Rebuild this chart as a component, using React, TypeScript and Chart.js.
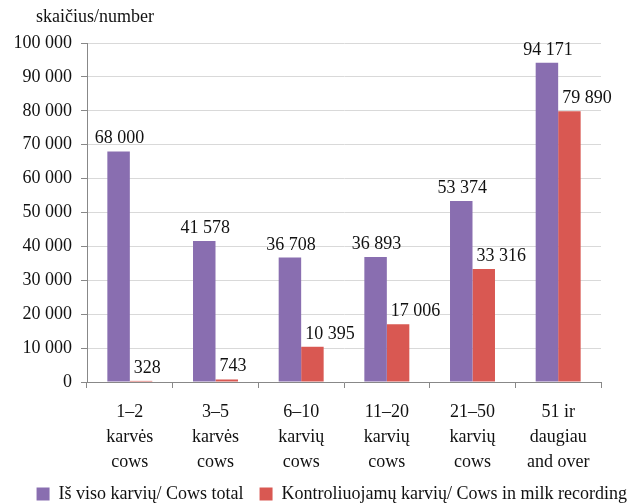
import React, { useEffect, useRef } from "react";
import { Chart, registerables } from "chart.js";

Chart.register(...registerables);

const categories: string[][] = [
  ["1–2", "karvės", "cows"],
  ["3–5", "karvės", "cows"],
  ["6–10", "karvių", "cows"],
  ["11–20", "karvių", "cows"],
  ["21–50", "karvių", "cows"],
  ["51 ir", "daugiau", "and over"],
];
const cowsTotal: number[] = [68000, 41578, 36708, 36893, 53374, 94171];
const cowsRecorded: number[] = [328, 743, 10395, 17006, 33316, 79890];
const seriesNames: string[] = [
  "Iš viso karvių/ Cows total",
  "Kontroliuojamų karvių/ Cows in milk recording",
];
const yAxisTitle = "skaičius/number";
const yMin = 0;
const yMax = 100000;
const yStep = 10000;

const FONT = '"Liberation Serif", "Times New Roman", serif';
const PURPLE = "#896EB0";
const RED = "#D95852";
const TEXT = "#111";

const fmt = (v: number) =>
  String(Math.round(v)).replace(/\B(?=(\d{3})+(?!\d))/g, " ");

const labelPlugin = {
  id: "barLabels",
  afterDatasetsDraw(chart: any) {
    const ctx = chart.ctx;
    ctx.save();
    ctx.font = `18px ${FONT}`;
    ctx.fillStyle = TEXT;
    ctx.textBaseline = "alphabetic";
    chart.data.datasets.forEach((ds: any, di: number) => {
      const meta = chart.getDatasetMeta(di);
      meta.data.forEach((bar: any, i: number) => {
        const txt = fmt(ds.data[i]);
        if (di === 0) {
          ctx.textAlign = "center";
          ctx.fillText(txt, bar.x + 1, bar.y - 8);
        } else {
          ctx.textAlign = "left";
          ctx.fillText(txt, bar.x - bar.width / 2 + 4, bar.y - 8);
        }
      });
    });
    ctx.textAlign = "left";
    ctx.fillText(yAxisTitle, 36, 22);
    ctx.restore();
  },
};

export default function App() {
  const ref = useRef<HTMLCanvasElement | null>(null);
  useEffect(() => {
    if (!ref.current) return;
    const chart = new Chart(ref.current, {
      type: "bar",
      data: {
        labels: categories,
        datasets: [
          {
            label: seriesNames[0],
            data: cowsTotal,
            backgroundColor: PURPLE,
            categoryPercentage: 0.525,
            barPercentage: 1,
          },
          {
            label: seriesNames[1],
            data: cowsRecorded,
            backgroundColor: RED,
            categoryPercentage: 0.525,
            barPercentage: 1,
          },
        ],
      },
      options: {
        animation: false,
        responsive: false,
        devicePixelRatio: 1,
        layout: { padding: { top: 43, left: 0, right: -8, bottom: -9 } },
        plugins: {
          legend: {
            position: "bottom",
            align: "end",
            labels: {
              boxWidth: 13,
              boxHeight: 13,
              padding: 16,
              color: TEXT,
              font: { family: FONT, size: 18 },
            },
          },
          tooltip: { enabled: false },
        },
        scales: {
          x: {
            grid: {
              display: true,
              drawOnChartArea: false,
              drawTicks: true,
              tickLength: 6,
              tickColor: "#888",
              offset: true,
            },
            border: { display: true, color: "#888" },
            ticks: {
              color: TEXT,
              padding: 12,
              maxRotation: 0,
              autoSkip: false,
              font: { family: FONT, size: 18, lineHeight: "25px" },
            },
            afterFit: (s: any) => {
              s.height = 87;
            },
          },
          y: {
            min: yMin,
            max: yMax,
            grid: {
              color: "#D9D9D9",
              tickColor: "#888",
              tickLength: 6,
            },
            border: { display: true, color: "#888" },
            ticks: {
              stepSize: yStep,
              color: TEXT,
              padding: 9,
              font: { family: FONT, size: 18 },
              callback: (v: any) => fmt(Number(v)),
            },
            afterFit: (s: any) => {
              s.width = 87;
            },
          },
          spacer: {
            type: "linear",
            position: "right",
            display: true,
            grid: { display: false },
            ticks: { display: false },
            border: { display: false },
            afterFit: (s: any) => {
              s.width = 42;
            },
          },
        },
      } as any,
      plugins: [labelPlugin],
    });
    return () => chart.destroy();
  }, []);
  return (
    <div style={{ position: "absolute", left: 0, top: 0, width: 635, height: 504 }}>
      <canvas ref={ref} width={635} height={504} />
    </div>
  );
}
